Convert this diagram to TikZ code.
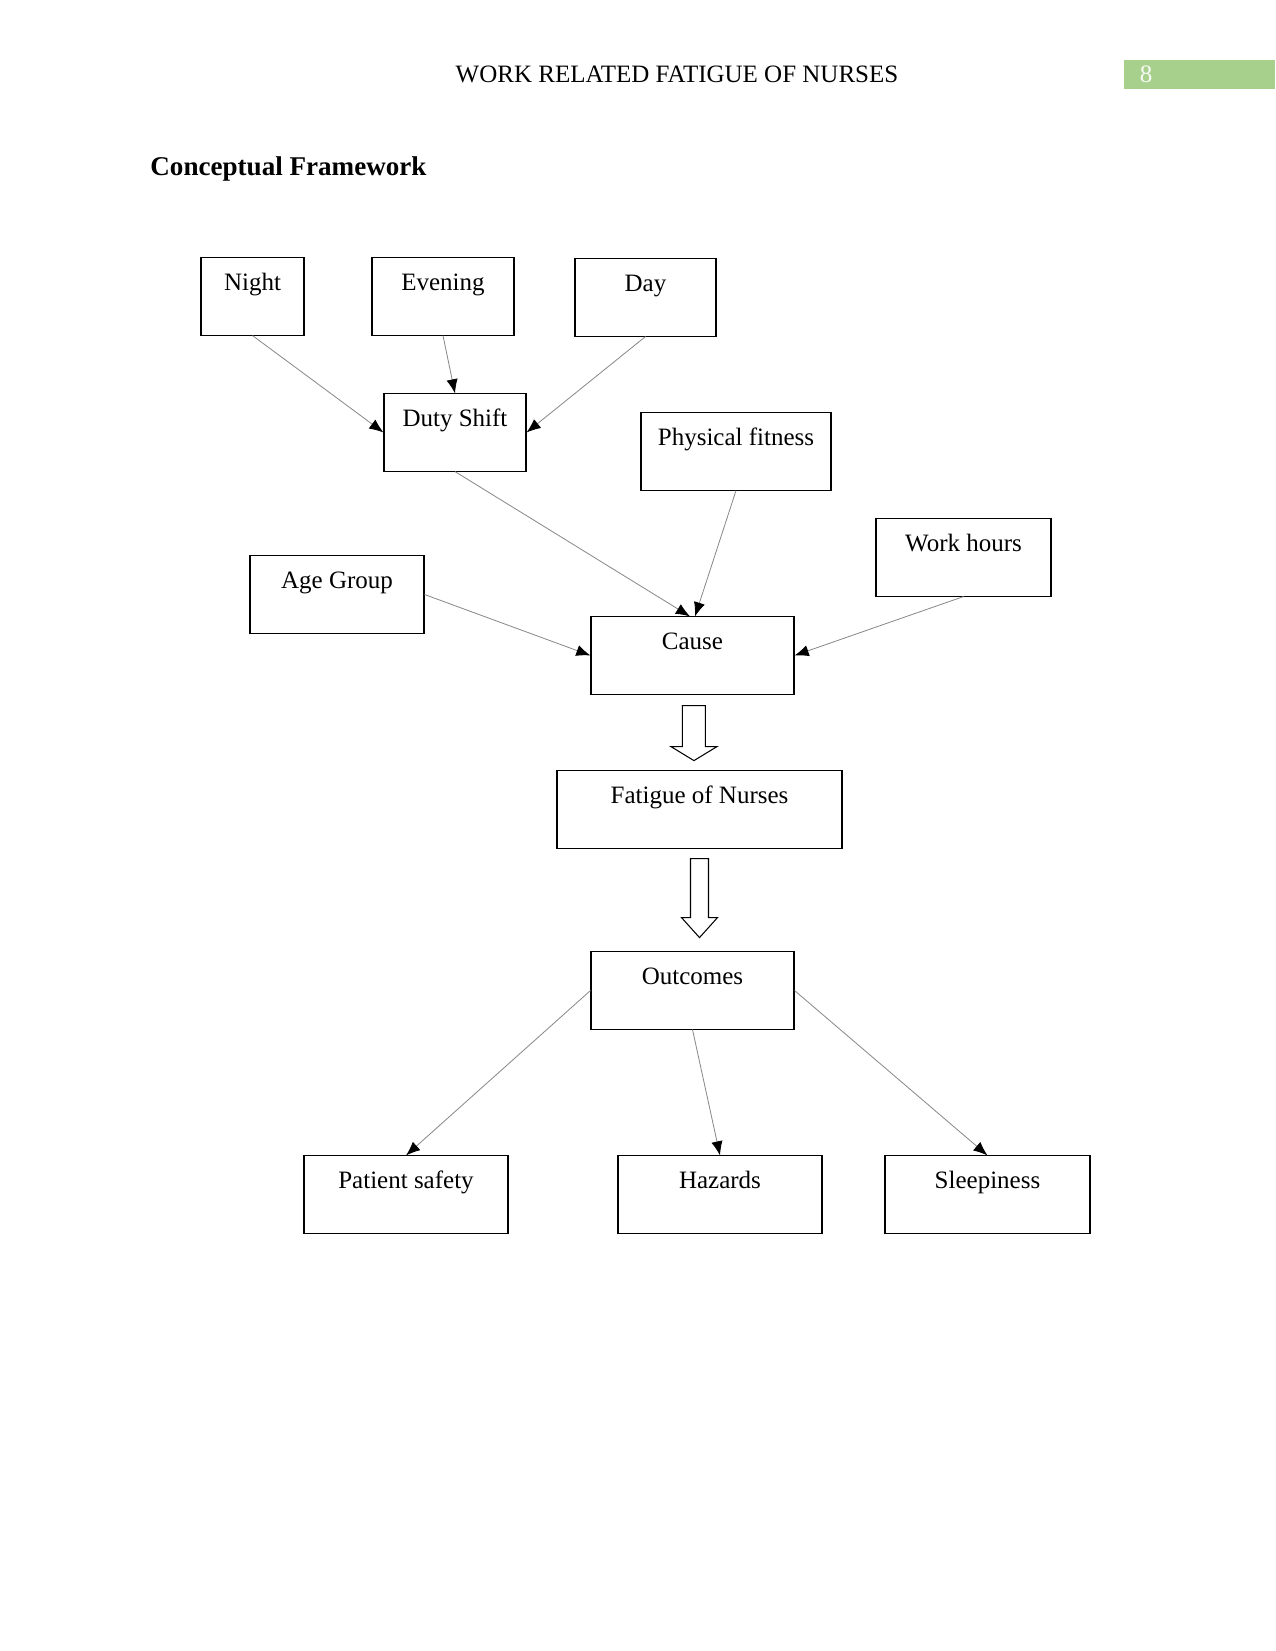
\documentclass[tikz,border=0pt]{standalone}
\usepackage{fontspec}
\setmainfont{Liberation Serif}
\usetikzlibrary{arrows.meta,calc}
\definecolor{hdrgreen}{HTML}{A8D08D}
\definecolor{linkgray}{HTML}{8A8A8A}
\tikzset{
  concept/.style={draw=black,line width=.5pt,inner sep=0pt,text height=15.4pt,text depth=21.6pt,minimum width=#1*0.48pt,font=\fontsize{12}{14}\selectfont},
  link/.style={draw=linkgray,line width=.4pt,-{Latex[length=6.8pt,width=5.4pt,color=black]}},
  hollow/.style={draw=black,fill=white,line width=.5pt,line join=miter},
  runhead/.style={font=\fontsize{12}{14}\selectfont,anchor=base},
}

\begin{document}
\begin{tikzpicture}[x=0.48pt,y=-0.48pt]
  \useasboundingbox (0,0) rectangle (1275,1651);

  % ---------------- running head ----------------
  \fill[hdrgreen] (1124,60) rectangle (1275,89);
  \node[runhead] (head) at (677,83) {WORK RELATED FATIGUE OF NURSES};
  \node[runhead,text=white!90!hdrgreen] (pageno) at (1146,83) {8};
  \node[font=\fontsize{13}{15}\selectfont\bfseries,anchor=base west,inner sep=0pt] (title) at (150,176) {Conceptual Framework};

  % ---------------- causes ----------------
  \node[concept=103] (night) at (252.5,296.5) {Night};
  \node[concept=142] (evening) at (443,296.5) {Evening};
  \node[concept=141] (day) at (645.5,297.5) {Day};
  \node[concept=142] (duty) at (455,432.5) {Duty Shift};
  \node[concept=190] (fitness) at (736,451.5) {Physical fitness};
  \node[concept=175] (hours) at (963.5,557.5) {Work hours};
  \node[concept=174] (age) at (337,594.5) {Age Group};
  \node[concept=203] (cause) at (692.5,655.5) {Cause};

  \draw[link] (night.south) -- (duty.west);
  \draw[link] (evening.south) -- (duty.north);
  \draw[link] (day.south) -- (duty.east);
  \draw[link] (duty.south) -- ([xshift=-1.2pt]cause.north);
  \draw[link] (fitness.south) -- ([xshift=1.2pt]cause.north);
  \draw[link] (age.east) -- (cause.west);
  \draw[link] (hours.south) -- (cause.east);

  % ---------------- fatigue and outcomes ----------------
  \node[concept=285] (fatigue) at (699.5,809.5) {Fatigue of Nurses};
  \node[concept=203] (outcomes) at (692.5,990.5) {Outcomes};
  \node[concept=204] (patient) at (406,1194.5) {Patient safety};
  \node[concept=204] (hazards) at (720,1194.5) {Hazards};
  \node[concept=205] (sleep) at (987.5,1194.5) {Sleepiness};

  \coordinate (dropA) at ([xshift=.7pt,yshift=-5.3pt]cause.south);
  \draw[hollow] (dropA) ++(-11.5,0) -- ++(23,0) -- ++(0,41) -- ++(11.5,0) -- ++(-23,14) -- ++(-23,-14) -- ++(11.5,0) -- cycle;
  \coordinate (dropB) at ([yshift=-4.8pt]fatigue.south);
  \draw[hollow] (dropB) ++(-9,0) -- ++(18,0) -- ++(0,59) -- ++(9,0) -- ++(-18,20) -- ++(-18,-20) -- ++(9,0) -- cycle;

  \draw[link] (outcomes.west) -- (patient.north);
  \draw[link] (outcomes.south) -- (hazards.north);
  \draw[link] (outcomes.east) -- (sleep.north);
\end{tikzpicture}
\end{document}
